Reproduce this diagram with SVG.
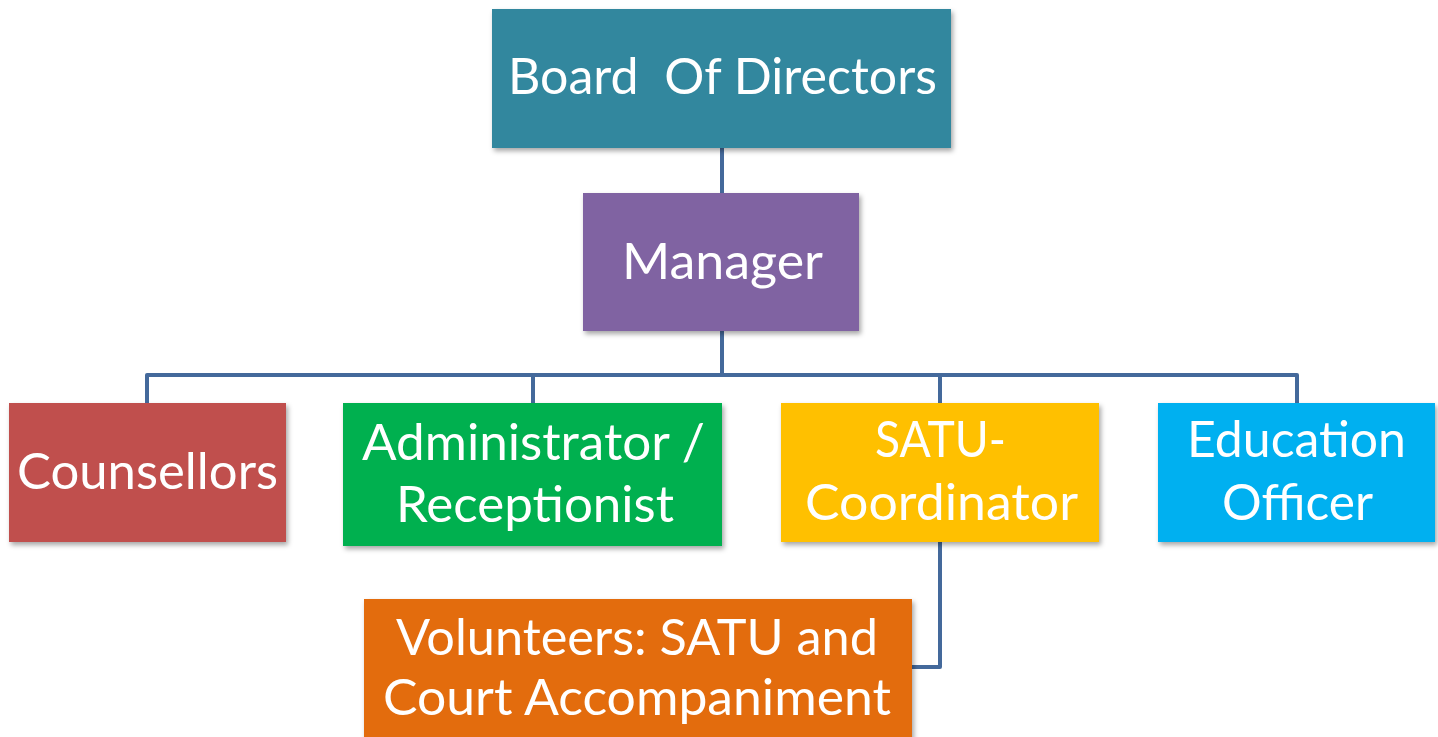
<svg xmlns="http://www.w3.org/2000/svg" width="1438" height="737" viewBox="0 0 1438 737">
<defs>
<filter id="sh" x="-10%" y="-10%" width="125%" height="130%">
<feDropShadow dx="2" dy="3" stdDeviation="2.5" flood-color="#000" flood-opacity="0.35"/>
</filter>
<style>
.c{fill:none;stroke:#44699b;stroke-width:4;stroke-linejoin:round}
.b{filter:url(#sh)}
.t{font-family:Lato,"Open Sans","Liberation Sans",sans-serif;font-size:50px;fill:#fff}
</style>
</defs>
<rect width="1438" height="737" fill="#fff"/>
<g id="connectors">
<path class="c" d="M722 148V193"/>
<path class="c" d="M722 331V375"/>
<path class="c" d="M147 403V375H1297V403"/>
<path class="c" d="M533 375V403"/>
<path class="c" d="M940 375V403"/>
<path class="c" d="M940 542V667H912"/>
</g>
<g id="board">
<rect class="b" x="492" y="9" width="459" height="139" fill="#33879e"/>
<text class="t" x="508" y="94" textLength="429" lengthAdjust="spacingAndGlyphs" xml:space="preserve">Board  Of Directors</text>
</g>
<g id="manager">
<rect class="b" x="583" y="193" width="276" height="138" fill="#8064a2"/>
<text class="t" x="622" y="279" textLength="201" lengthAdjust="spacingAndGlyphs">Manager</text>
</g>
<g id="counsellors">
<rect class="b" x="9" y="403" width="277" height="139" fill="#c0504d"/>
<text class="t" x="17" y="489" textLength="261" lengthAdjust="spacingAndGlyphs">Counsellors</text>
</g>
<g id="administrator">
<rect class="b" x="343" y="403" width="379" height="143" fill="#00b050"/>
<text class="t" x="362" y="460" textLength="343" lengthAdjust="spacingAndGlyphs">Administrator /</text>
<text class="t" x="396" y="522" textLength="278" lengthAdjust="spacingAndGlyphs">Receptionist</text>
</g>
<g id="satu">
<rect class="b" x="781" y="403" width="318" height="139" fill="#ffc000"/>
<text class="t" x="875" y="457" textLength="131" lengthAdjust="spacingAndGlyphs">SATU-</text>
<text class="t" x="805" y="520" textLength="273" lengthAdjust="spacingAndGlyphs">Coordinator</text>
</g>
<g id="education">
<rect class="b" x="1158" y="403" width="277" height="139" fill="#00b0f0"/>
<text class="t" x="1187" y="457" textLength="219" lengthAdjust="spacingAndGlyphs">Education</text>
<text class="t" x="1222" y="520" textLength="151" lengthAdjust="spacingAndGlyphs">Officer</text>
</g>
<g id="volunteers">
<rect class="b" x="364" y="599" width="548" height="150" fill="#e36c09"/>
<text class="t" x="396" y="655" textLength="482" lengthAdjust="spacingAndGlyphs">Volunteers: SATU and</text>
<text class="t" x="383" y="715" textLength="508" lengthAdjust="spacingAndGlyphs">Court Accompaniment</text>
</g>
</svg>
